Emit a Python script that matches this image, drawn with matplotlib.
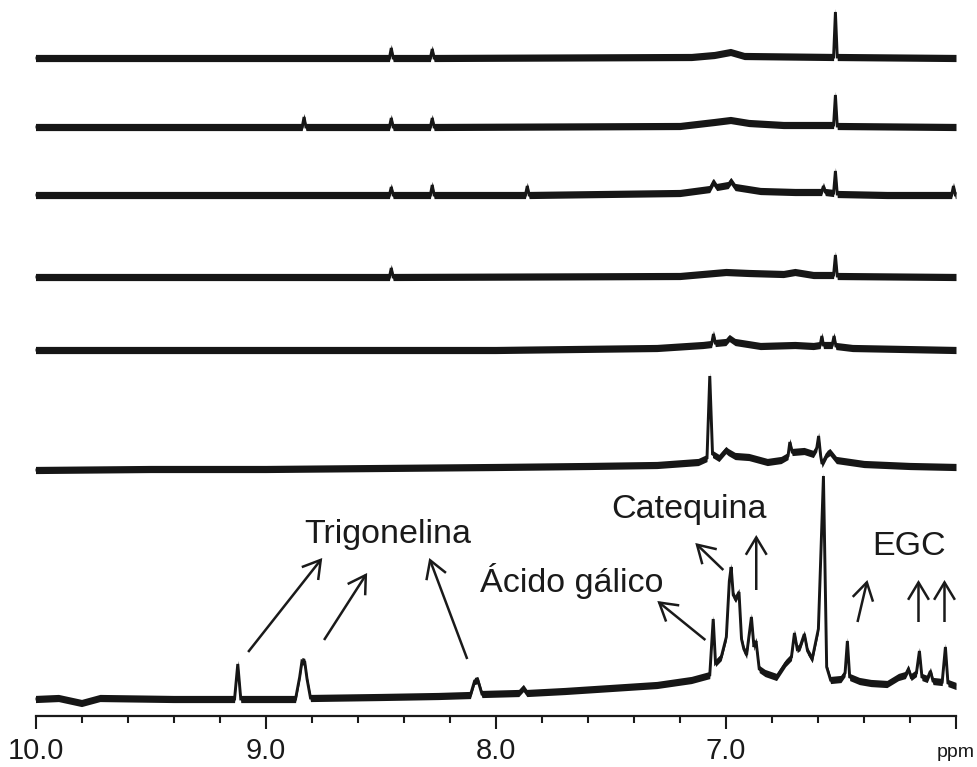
import matplotlib
matplotlib.use("Agg")
import numpy as np
import matplotlib.pyplot as plt
from matplotlib.patches import FancyArrowPatch
from matplotlib.transforms import ScaledTranslation

plt.rcParams['font.family'] = ['Liberation Sans', 'DejaVu Sans']

# ---- spectra: chemical shift (ppm) and intensity above each trace's baseline ----
# trace 1 (top)
t1_ppm = [10.0, 8.462, 8.454, 8.446, 8.284, 8.276, 8.268, 7.15, 7.05, 6.98, 6.92,
          6.532, 6.524, 6.516, 6.0]
t1_int = [0, 0, 10, 0, 0, 9, 0, 1, 3, 6, 2, 1, 46, 1, 0]

# trace 2
t2_ppm = [10.0, 8.841, 8.833, 8.825, 8.462, 8.454, 8.446, 8.284, 8.276, 8.268,
          7.20, 7.05, 6.98, 6.90, 6.75, 6.532, 6.524, 6.516, 6.0]
t2_int = [0, 0, 10, 0, 0, 9, 0, 0, 9, 0, 1, 5, 7, 4, 2, 2, 32, 1, 0]

# trace 3
t3_ppm = [10.0, 8.462, 8.454, 8.446, 8.284, 8.276, 8.268, 7.871, 7.863, 7.855,
          7.20, 7.07, 7.054, 7.04, 6.99, 6.978, 6.96, 6.85, 6.70,
          6.584, 6.576, 6.568, 6.532, 6.524, 6.516, 6.30, 6.019, 6.011, 6.003, 6.0]
t3_int = [0, 0, 8, 0, 0, 10, 0, 0, 9, 0,
          2, 6, 13, 8, 10, 14, 8, 4, 3,
          3, 9, 3, 2, 24, 1, 0, 0, 9, 0, 0]

# trace 4
t4_ppm = [10.0, 8.462, 8.454, 8.446, 7.2, 7.0, 6.9, 6.75, 6.70, 6.62,
          6.532, 6.524, 6.516, 6.0]
t4_int = [0, 0, 9, 0, 1, 5, 4, 3, 5, 2, 2, 22, 1, 0]

# trace 5
t5_ppm = [10.0, 8.0, 7.3, 7.10, 7.062, 7.054, 7.046, 7.00, 6.985, 6.960, 6.85,
          6.70, 6.62, 6.590, 6.583, 6.576, 6.538, 6.530, 6.522, 6.45, 6.0]
t5_int = [0, 0, 2, 5, 6, 16, 7, 8, 12, 8, 4, 5, 4, 5, 14, 5, 5, 14, 4, 2, 0]

# trace 6
t6_ppm = [10.0, 9.5, 9.0, 8.5, 8.0, 7.6, 7.3, 7.12, 7.082, 7.070, 7.058, 7.03,
          7.000, 6.990, 6.96, 6.90, 6.82, 6.76, 6.730, 6.722, 6.712, 6.66, 6.62,
          6.605, 6.597, 6.588, 6.582, 6.560, 6.548, 6.52, 6.40, 6.20, 6.00]
t6_int = [0, 1, 1, 2, 3, 4, 5, 8, 12, 94, 16, 12,
          20, 18, 14, 13, 8, 10, 14, 28, 18, 19, 16,
          22, 34, 14, 6, 16, 18, 10, 6, 4, 3]

# trace 7 (bottom, assigned)
t7_ppm = [10.00, 9.90, 9.80, 9.72, 9.40, 9.135, 9.121, 9.108,
          8.87, 8.852, 8.842, 8.830, 8.820, 8.805, 8.50, 8.25,
          8.11, 8.092, 8.078, 8.060, 7.90, 7.880, 7.865, 7.70, 7.50, 7.30, 7.15,
          7.070, 7.055, 7.045, 7.020, 6.998, 6.985, 6.977, 6.968, 6.958, 6.943,
          6.932, 6.922, 6.910, 6.889, 6.878, 6.869, 6.855, 6.830, 6.780, 6.740,
          6.715, 6.702, 6.690, 6.678, 6.659, 6.645, 6.625, 6.598, 6.576, 6.562,
          6.545, 6.500, 6.482, 6.472, 6.462, 6.420, 6.370, 6.300, 6.250, 6.220,
          6.207, 6.195, 6.172, 6.159, 6.148, 6.125, 6.111, 6.100, 6.060, 6.046,
          6.035, 6.000]
t7_int = [0, 1, -4, 1, 0, 0, 35, 0,
          0, 22, 38, 37, 20, 1, 2, 3,
          4, 18, 19, 5, 6, 11, 6, 8, 11, 14, 19,
          24, 80, 36, 42, 62, 118, 132, 104, 100, 107,
          60, 50, 44, 82, 52, 58, 30, 26, 22, 36,
          42, 66, 50, 52, 65, 48, 40, 70, 223, 32,
          19, 20, 26, 58, 22, 18, 16, 15, 22, 24,
          30, 22, 26, 48, 22, 20, 28, 18, 17, 52,
          16, 13]

traces = [(t1_ppm, t1_int), (t2_ppm, t2_int), (t3_ppm, t3_int), (t4_ppm, t4_int),
          (t5_ppm, t5_int), (t6_ppm, t6_int), (t7_ppm, t7_int)]
offsets = [658, 589, 521, 439, 366, 246, 17]
noise_halfwidth = 3.6

# ---- assignments ----
labels = ["Trigonelina", "Catequina", "Ácido gálico", "EGC"]
label_pos = [(8.832, 173), (7.498, 198), (8.067, 124), (6.363, 161)]
# arrows: (tail ppm, tail y) -> (head ppm, head y)
arrows = [((9.076, 64), (8.754, 158)),
          ((8.746, 76), (8.559, 143)),
          ((8.124, 57), (8.289, 158)),
          ((7.089, 76), (7.298, 115)),
          ((7.011, 146), (7.133, 173)),
          ((6.868, 126), (6.868, 181)),
          ((6.428, 94), (6.385, 136)),
          ((6.163, 94), (6.163, 136)),
          ((6.050, 94), (6.050, 136))]

major_ticks = [10.0, 9.0, 8.0, 7.0, 6.0]
major_labels = ["10.0", "9.0", "8.0", "7.0", "ppm"]
minor_ticks = [9.8, 9.6, 9.4, 9.2, 8.8, 8.6, 8.4, 8.2, 7.8, 7.6, 7.4, 7.2,
               6.8, 6.6, 6.4, 6.2]

ink = "#161616"

fig = plt.figure(figsize=(9.77, 7.67), dpi=100)
ax = fig.add_axes([35.5 / 977, 51 / 767, 920.5 / 977, 716 / 767])

for (ppm, inten), off in zip(traces, offsets):
    x = np.asarray(ppm, dtype=float)
    y = np.asarray(inten, dtype=float) + off
    ax.fill_between(x, y - noise_halfwidth, y + noise_halfwidth,
                    color=ink, linewidth=0, clip_on=False)
    ax.plot(x, y, color=ink, linewidth=2.1, solid_joinstyle="miter",
            solid_capstyle="butt", clip_on=False)

for text, (tx, ty) in zip(labels, label_pos):
    ax.text(tx, ty, text, fontsize=24.5, color="#1a1a1a",
            ha="left", va="baseline")

for (tail, head) in arrows:
    arr = FancyArrowPatch(tail, head,
                          arrowstyle="->,head_length=1.25,head_width=0.75",
                          mutation_scale=10, linewidth=1.8, color="#1a1a1a",
                          shrinkA=0, shrinkB=0, joinstyle="miter",
                          capstyle="butt")
    ax.add_patch(arr)

ax.set_xlim(10.0, 6.0)
ax.set_ylim(0, 716)
for side in ("top", "left", "right"):
    ax.spines[side].set_visible(False)
ax.spines["bottom"].set_linewidth(1.6)
ax.spines["bottom"].set_color("#1a1a1a")
ax.set_yticks([])
ax.set_xticks(major_ticks)
ax.set_xticklabels(major_labels)
ax.set_xticks(minor_ticks, minor=True)
ax.tick_params(axis="x", which="major", direction="out", length=9, width=1.5,
               labelsize=21, pad=6, colors="#1a1a1a")
ax.tick_params(axis="x", which="minor", direction="out", length=5, width=1.5,
               colors="#1a1a1a")
ppm_label = ax.get_xticklabels()[-1]
ppm_label.set_fontsize(14)
ppm_label.set_transform(ppm_label.get_transform() +
                        ScaledTranslation(0, -7 / 100, fig.dpi_scale_trans))
ax.patch.set_visible(False)

fig.savefig("out.png", dpi=100, facecolor="white")
